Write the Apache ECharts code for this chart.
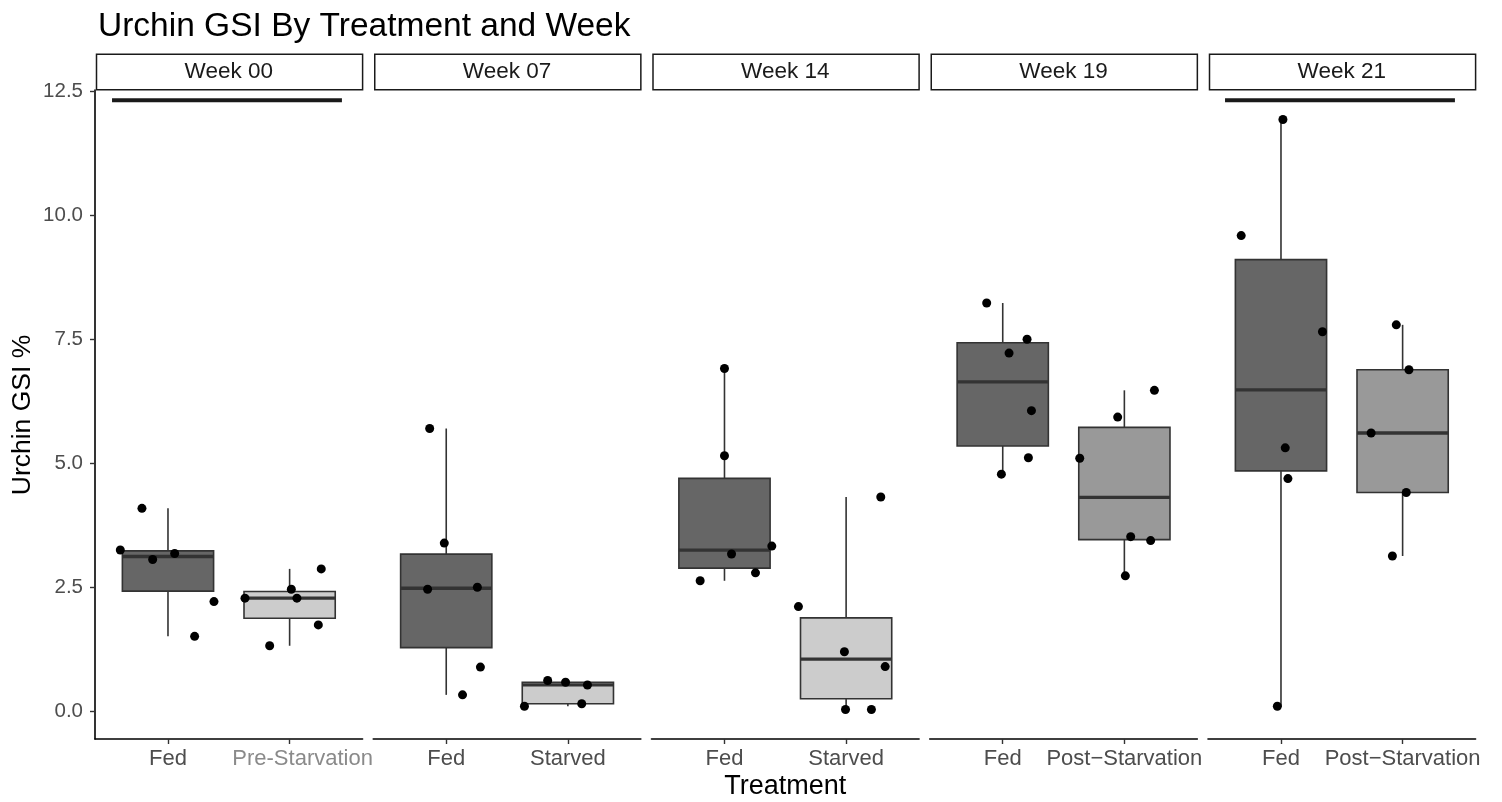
<!DOCTYPE html>
<html>
<head>
<meta charset="utf-8">
<script src="https://cdn.jsdelivr.net/npm/echarts@6/dist/echarts.min.js"></script>
<style>
  html, body { margin: 0; padding: 0; background: #fff; }
  #chart { width: 1502px; height: 802px; }
</style>
</head>
<body>
<div id="chart"></div>
<script>
// ---------------- DATA ----------------
const weeks = ['Week 00', 'Week 07', 'Week 14', 'Week 19', 'Week 21'];
const firstTreatment = ['Fed', 'Fed', 'Fed', 'Fed', 'Fed'];
const secondTreatment = ['Pre-Starvation', 'Starved', 'Starved', 'Post\u2212Starvation', 'Post\u2212Starvation'];

// Urchin GSI % of each urchin (Fed group), per week
const fedGSI = [
  [4.09, 3.25, 3.06, 3.18, 2.21, 1.51],
  [5.70, 3.39, 2.46, 2.50, 0.89, 0.33],
  [6.91, 5.15, 3.17, 3.33, 2.79, 2.63],
  [8.23, 7.50, 7.22, 6.06, 5.11, 4.78],
  [11.93, 9.59, 7.65, 5.31, 4.69, 0.10]
];
// horizontal jitter positions (1 = Fed slot)
const fedJitter = [
  [0.786, 0.608, 0.874, 1.055, 1.378, 1.219],
  [0.864, 0.984, 0.847, 1.256, 1.281, 1.134],
  [1.000, 1.000, 1.058, 1.389, 1.255, 0.800],
  [0.868, 1.200, 1.052, 1.236, 1.211, 0.989],
  [1.016, 0.673, 1.341, 1.035, 1.057, 0.970]
];
// Urchin GSI % of the second treatment group, per week
const otherGSI = [
  [2.46, 2.28, 2.28, 2.87, 1.74, 1.32],
  [0.62, 0.585, 0.53, 0.10, 0.15],
  [4.32, 2.11, 1.20, 0.90, 0.035, 0.035],
  [6.47, 5.93, 5.10, 3.52, 3.44, 2.73],
  [7.79, 6.885, 5.61, 4.41, 3.13]
];
// horizontal jitter positions (2 = second slot)
const otherJitter = [
  [2.014, 1.633, 2.060, 2.260, 2.236, 1.836],
  [1.834, 1.981, 2.161, 1.643, 2.114],
  [2.285, 1.608, 1.986, 2.321, 1.995, 2.208],
  [2.247, 1.945, 1.633, 2.052, 2.216, 2.008],
  [1.948, 2.052, 1.741, 2.030, 1.916]
];
const yTicks = [0, 2.5, 5, 7.5, 10, 12.5];
// comparison bars drawn above panels
const sigBarWeeks = ['Week 00', 'Week 21'];
const sigBarFrom = [0.54, 0.54];
const sigBarTo = [2.43, 2.43];
const sigBarLevel = [12.32, 12.32];

// ---------------- STYLE / LAYOUT ----------------
const FONT = 'Liberation Sans, Arial, Helvetica, sans-serif';
const fillOf = { 'Fed': '#666666', 'Pre-Starvation': '#CCCCCC', 'Starved': '#CCCCCC', 'Post\u2212Starvation': '#999999' };
const PANEL_LEFT = 95, PANEL_W = 267.6, PANEL_STEP = 278.25, PANEL_TOP = 90, PANEL_H = 649;
const BOX_HALF = 0.375;

// R type-7 quantile
function quantile(sorted, p) {
  const h = (sorted.length - 1) * p;
  const lo = Math.floor(h), hi = Math.ceil(h);
  return sorted[lo] + (h - lo) * (sorted[hi] - sorted[lo]);
}
function boxStats(vals) {
  const s = vals.slice().sort((a, b) => a - b);
  const q1 = quantile(s, 0.25), med = quantile(s, 0.5), q3 = quantile(s, 0.75);
  const iqr = q3 - q1;
  const lowF = q1 - 1.5 * iqr, highF = q3 + 1.5 * iqr;
  const inside = s.filter(v => v >= lowF && v <= highF);
  return [inside[0], q1, med, q3, inside[inside.length - 1]];
}

// y range as ggplot: data range expanded by 5%
const allVals = fedGSI.flat().concat(otherGSI.flat());
const yMinData = Math.min(...allVals), yMaxData = Math.max(...allVals);
const yPad = 0.05 * (yMaxData - yMinData);
const Y_MIN = yMinData - yPad, Y_MAX = yMaxData + yPad;

function renderBox(params, api) {
  const c = api.value(0), lo = api.value(1), q1 = api.value(2), med = api.value(3), q3 = api.value(4), hi = api.value(5);
  const fill = api.visual('color');
  const pTop = api.coord([c, hi]), pQ3 = api.coord([c, q3]), pQ1 = api.coord([c, q1]), pBot = api.coord([c, lo]);
  const lt = api.coord([c - BOX_HALF, q3]), rb = api.coord([c + BOX_HALF, q1]);
  const m1 = api.coord([c - BOX_HALF, med]), m2 = api.coord([c + BOX_HALF, med]);
  const edge = '#333333';
  return {
    type: 'group',
    children: [
      { type: 'line', shape: { x1: pTop[0], y1: pTop[1], x2: pQ3[0], y2: pQ3[1] }, style: { stroke: edge, lineWidth: 1.6 } },
      { type: 'line', shape: { x1: pQ1[0], y1: pQ1[1], x2: pBot[0], y2: pBot[1] }, style: { stroke: edge, lineWidth: 1.6 } },
      { type: 'rect', shape: { x: lt[0], y: lt[1], width: rb[0] - lt[0], height: rb[1] - lt[1] }, style: { fill: fill, stroke: edge, lineWidth: 1.6 } },
      { type: 'line', shape: { x1: m1[0], y1: m1[1], x2: m2[0], y2: m2[1] }, style: { stroke: edge, lineWidth: 3.3 } }
    ]
  };
}

const grids = [], xAxes = [], yAxes = [], series = [], graphics = [];
weeks.forEach((wk, i) => {
  const left = PANEL_LEFT + i * PANEL_STEP;
  const cats = [firstTreatment[i], secondTreatment[i]];
  grids.push({ left: left, top: PANEL_TOP, width: PANEL_W, height: PANEL_H, containLabel: false });
  xAxes.push({
    type: 'value', gridIndex: i, min: 0.4, max: 2.6,
    axisLine: { show: true, onZero: false, lineStyle: { color: '#000', width: 1.6 } },
    axisTick: { show: true, customValues: [1, 2], length: 5, lineStyle: { color: '#333', width: 1.4 } },
    axisLabel: {
      show: true, customValues: [1, 2], margin: 9,
      formatter: v => {
        const name = cats[Math.round(v) - 1];
        return name === 'Pre-Starvation' ? '{pre|' + name + '}' : '{std|' + name + '}';
      },
      rich: {
        std: { color: '#4D4D4D', fontSize: 22, fontFamily: FONT },
        pre: { color: '#8a8a8a', fontSize: 22, fontFamily: FONT, padding: [0, 0, 0, 26] }
      },
      fontSize: 22, fontFamily: FONT
    },
    splitLine: { show: false }
  });
  yAxes.push({
    type: 'value', gridIndex: i, min: Y_MIN, max: Y_MAX, show: i === 0,
    axisLine: { show: true, onZero: false, lineStyle: { color: '#000', width: 1.6 } },
    axisTick: { show: true, customValues: yTicks, length: 5, lineStyle: { color: '#333', width: 1.4 } },
    axisLabel: {
      show: true, customValues: yTicks, margin: 12,
      formatter: v => Number(v).toFixed(1),
      color: '#4D4D4D', fontSize: 20.5, fontFamily: FONT
    },
    splitLine: { show: false }
  });

  const stF = boxStats(fedGSI[i]), stO = boxStats(otherGSI[i]);
  series.push({
    type: 'custom', xAxisIndex: i, yAxisIndex: i, renderItem: renderBox, silent: true, z: 2,
    data: [
      { value: [1].concat(stF), itemStyle: { color: fillOf[cats[0]] } },
      { value: [2].concat(stO), itemStyle: { color: fillOf[cats[1]] } }
    ]
  });
  const pts = fedGSI[i].map((v, k) => [fedJitter[i][k], v])
    .concat(otherGSI[i].map((v, k) => [otherJitter[i][k], v]));
  series.push({
    type: 'scatter', xAxisIndex: i, yAxisIndex: i, symbol: 'circle', symbolSize: 9, z: 5,
    itemStyle: { color: '#000', opacity: 1 }, data: pts, silent: true
  });
  const sb = sigBarWeeks.indexOf(wk);
  if (sb >= 0) {
    series.push({
      type: 'line', xAxisIndex: i, yAxisIndex: i, symbol: 'none', silent: true, z: 4,
      lineStyle: { color: '#1a1a1a', width: 4 },
      data: [[sigBarFrom[sb], sigBarLevel[sb]], [sigBarTo[sb], sigBarLevel[sb]]]
    });
  }
  // facet strip
  graphics.push({
    type: 'rect', left: left + 0.75, top: 53.5, silent: true,
    shape: { width: PANEL_W - 1.5, height: 35.5 },
    style: { fill: '#fff', stroke: '#1a1a1a', lineWidth: 1.5 }
  });
  graphics.push({
    type: 'text', x: left + PANEL_W / 2, y: 72, silent: true,
    style: { text: wk, textAlign: 'center', textVerticalAlign: 'middle', fontSize: 22.5, fontFamily: FONT, fill: '#1a1a1a' }
  });
});

graphics.push({
  type: 'text', x: (PANEL_LEFT + PANEL_LEFT + 4 * PANEL_STEP + PANEL_W) / 2, y: 787, silent: true,
  style: { text: 'Treatment', textAlign: 'center', textVerticalAlign: 'middle', fontSize: 27, fontFamily: FONT, fill: '#000' }
});
graphics.push({
  type: 'text', x: 23, y: 415, rotation: Math.PI / 2, silent: true,
  style: { text: 'Urchin GSI %', textAlign: 'center', textVerticalAlign: 'middle', fontSize: 26.5, fontFamily: FONT, fill: '#000' }
});

const chart = echarts.init(document.getElementById('chart'), null, { renderer: 'canvas' });
chart.setOption({
  backgroundColor: '#ffffff',
  animation: false,
  title: {
    text: 'Urchin GSI By Treatment and Week', left: 93, top: 5,
    textStyle: { fontSize: 33.5, fontWeight: 'normal', color: '#000', fontFamily: FONT }
  },
  grid: grids,
  xAxis: xAxes,
  yAxis: yAxes,
  series: series,
  graphic: graphics
});
</script>
</body>
</html>
